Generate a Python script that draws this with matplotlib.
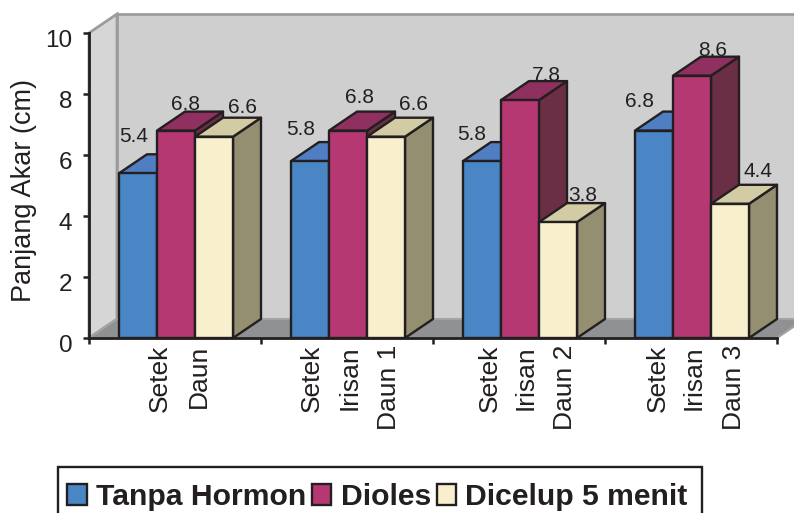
import matplotlib
matplotlib.use('Agg')
import matplotlib.pyplot as plt
from matplotlib.patches import Patch, Rectangle
from matplotlib.transforms import ScaledTranslation

plt.rcParams['font.family'] = ['Liberation Sans', 'DejaVu Sans']

# data
groups = [['Setek', '', 'Daun'],
          ['Setek', 'Irisan', 'Daun 1'],
          ['Setek', 'Irisan', 'Daun 2'],
          ['Setek', 'Irisan', 'Daun 3']]
series_names = ['Tanpa Hormon', 'Dioles', 'Dicelup 5 menit']
tanpa_hormon = [5.4, 5.8, 5.8, 6.8]
dioles = [6.8, 6.8, 7.8, 8.6]
dicelup = [6.6, 6.6, 3.8, 4.4]
yticks = [0, 2, 4, 6, 8, 10]

# colours: front, top, side
colors = [('#4a86c5', '#4f7fc2', '#3c5f8c'),
          ('#b53873', '#8f3060', '#6b2f45'),
          ('#f8f0cd', '#d3cba3', '#938f70')]
ink = '#231f20'

# label shift in pixels from the bar centre and top, one row per series
label_dx = [[-4, -9, -10, -14], [10, 12, 26, 21], [29, 28, 25, 28]]
label_dy = [[37, 32, 27, 29], [26, 33, 25, 25], [29, 32, 27, 32]]
# category text shift in pixels from the bar centre, one row per group
cat_dx = [[22, 0, -15], [2, 2, 3], [8, 6, 7], [4, 2, 4]]

W, H = 794, 513
px_x = 172.0   # pixels per group
px_y = 30.5    # pixels per y unit
x0, y0 = 89, 338
depth_x = 28 / px_x
depth_y = 19 / px_y
bar_w = 38 / px_x
bar_start = 30 / px_x

fig = plt.figure(figsize=(W / 100, H / 100), dpi=100)
ax = fig.add_axes([0, 0, 1, 1])
ax.set_xlim(-x0 / px_x, (W - x0) / px_x)
ax.set_ylim(-(H - y0) / px_y, y0 / px_y)
ax.patch.set_visible(False)

n = len(groups)
top = yticks[-1]

# walls and floor
ax.fill([0, 0, depth_x, depth_x], [0, top, top + depth_y, depth_y],
        fc='#d6d6d6', ec='#9c9c9c', lw=2, zorder=1)
ax.fill([depth_x, depth_x, n + depth_x, n + depth_x], [depth_y, top + depth_y, top + depth_y, depth_y],
        fc='#cfcfcf', ec='#9c9c9c', lw=2, zorder=1)
ax.fill([0, depth_x, n + depth_x, n], [0, depth_y, depth_y, 0],
        fc='#8f9192', ec='#a3a3a3', lw=1.5, zorder=2)

# bars
z = 3
for g in range(n):
    for s, vals in enumerate([tanpa_hormon, dioles, dicelup]):
        v = vals[g]
        left = g + bar_start + s * bar_w
        right = left + bar_w
        front, upper, side = colors[s]
        ax.fill([right, right + depth_x, right + depth_x, right], [0, depth_y, v + depth_y, v],
                fc=side, ec=ink, lw=1.7, joinstyle='round', zorder=z)
        ax.fill([left, left + depth_x, right + depth_x, right], [v, v + depth_y, v + depth_y, v],
                fc=upper, ec=ink, lw=1.7, joinstyle='round', zorder=z)
        ax.fill([left, right, right, left], [0, 0, v, v],
                fc=front, ec=ink, lw=1.7, joinstyle='round', zorder=z)
        z += 1
        ax.annotate(f'{v:.1f}', (left + bar_w / 2, v), xycoords='data',
                    xytext=(label_dx[s][g] * 0.72, label_dy[s][g] * 0.72), textcoords='offset points',
                    ha='center', va='center', fontsize=15, color=ink, zorder=50)
        # category text stands under each bar
        if groups[g][s]:
            ax.annotate(groups[g][s], (left + bar_w / 2, 0), xycoords='data',
                        xytext=(cat_dx[g][s] * 0.72, -5), textcoords='offset points',
                        rotation=90, ha='center', va='top', fontsize=19, color=ink)

# axes
for name in ['top', 'right']:
    ax.spines[name].set_visible(False)
ax.spines['left'].set_position(('data', 0))
ax.spines['bottom'].set_position(('data', 0))
ax.spines['left'].set_bounds(0, top)
ax.spines['bottom'].set_bounds(0, n)
for name in ['left', 'bottom']:
    ax.spines[name].set_linewidth(2)
    ax.spines[name].set_color(ink)
    ax.spines[name].set_zorder(40)
ax.set_yticks(yticks)
ax.set_xticks(range(n + 1))
ax.set_xticklabels([])
ax.tick_params(axis='both', length=4, width=1.8, color=ink, zorder=40)
ax.tick_params(axis='y', labelsize=17.5, labelcolor=ink, pad=8)
shift = ScaledTranslation(0, -4 / 72, fig.dpi_scale_trans)
for lab in ax.get_yticklabels():
    lab.set_transform(lab.get_transform() + shift)

ax.text(-65 / px_x, (y0 - 191) / px_y, 'Panjang Akar (cm)', rotation=90,
        ha='center', va='center', fontsize=19.5, color=ink)

# legend, frame drawn apart so it can run off the bottom like the original
ax.add_patch(Rectangle((58 / W, -0.05), (702 - 58) / W, 1 - 467 / H + 0.05, transform=ax.transAxes,
                       fc='white', ec=ink, lw=1.7, zorder=1))
handles = [Patch(fc=c[0], ec=ink, lw=1.7) for c in colors]
leg = ax.legend(handles, series_names, ncol=3, loc='center left',
                bbox_to_anchor=(67 / W, 1 - 497 / H), borderaxespad=0,
                prop={'weight': 'bold', 'size': 21.7}, labelcolor=ink,
                frameon=False, handlelength=0.65, handleheight=0.72, handletextpad=0.3,
                columnspacing=0.2, borderpad=0)

fig.savefig('out.png', dpi=100)
